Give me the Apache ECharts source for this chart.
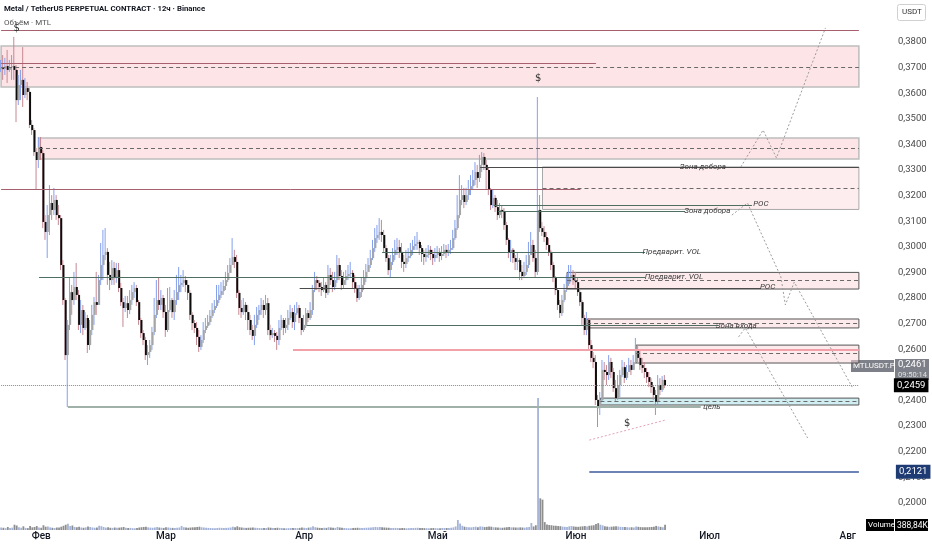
<!DOCTYPE html>
<html><head><meta charset="utf-8">
<script src="https://cdn.jsdelivr.net/npm/echarts@6/dist/echarts.min.js"></script>
<style>html,body{margin:0;padding:0;background:#fff}#c{width:932px;height:550px}</style>
</head><body><div id="c"></div>
<script>
// ---------- DATA ----------
const startDay = [2025, 0, 23];   // first 12h slot
const slotCount = 386;            // slots on the time axis (incl. future space)
const monthNames = ['Янв','Фев','Мар','Апр','Май','Июн','Июл','Авг','Сен','Окт','Ноя','Дек'];
const hiddenTicks = ['0.3900','0.2500','0.1900'];
const firstOpen = 0.3695;

const closes = [
0.3698,0.3695,0.3706,0.3691,0.3702,0.3706,0.3691,0.3573,0.3632,0.3652,
0.3593,0.3620,0.3605,0.3476,0.3456,0.3370,0.3339,0.3390,0.3366,0.3097,
0.3058,0.3124,0.3171,0.3144,0.3183,0.3124,0.3112,0.2929,0.2792,0.2577,
0.2695,0.2823,0.2792,0.2843,0.2812,0.2695,0.2753,0.2683,0.2722,0.2616,
0.2675,0.2734,0.2784,0.2773,0.2870,0.2929,0.2968,0.2980,0.2890,0.2870,
0.2917,0.2878,0.2909,0.2839,0.2784,0.2761,0.2780,0.2753,0.2792,0.2823,
0.2839,0.2784,0.2714,0.2663,0.2636,0.2577,0.2589,0.2616,0.2667,0.2734,
0.2792,0.2773,0.2800,0.2745,0.2675,0.2753,0.2792,0.2745,0.2792,0.2823,
0.2851,0.2859,0.2870,0.2851,0.2820,0.2734,0.2702,0.2683,0.2648,0.2609,
0.2636,0.2675,0.2691,0.2706,0.2730,0.2753,0.2769,0.2792,0.2812,0.2827,
0.2847,0.2870,0.2898,0.2929,0.2960,0.2941,0.2820,0.2761,0.2745,0.2773,
0.2745,0.2714,0.2675,0.2652,0.2695,0.2734,0.2753,0.2773,0.2753,0.2780,
0.2675,0.2655,0.2663,0.2652,0.2636,0.2683,0.2714,0.2683,0.2695,0.2722,
0.2745,0.2706,0.2741,0.2761,0.2722,0.2675,0.2695,0.2741,0.2722,0.2753,
0.2831,0.2870,0.2859,0.2843,0.2831,0.2851,0.2820,0.2890,0.2870,0.2843,
0.2870,0.2929,0.2886,0.2851,0.2870,0.2886,0.2894,0.2898,0.2862,0.2839,
0.2800,0.2823,0.2851,0.2878,0.2902,0.2929,0.2956,0.2995,0.3034,0.3046,
0.3058,0.3046,0.2995,0.2956,0.2909,0.2941,0.2968,0.2988,0.2999,0.2980,
0.2941,0.2933,0.2956,0.2964,0.2988,0.3003,0.3011,0.3019,0.2995,0.2972,
0.2960,0.2968,0.2988,0.2972,0.2956,0.2968,0.2980,0.2964,0.2972,0.2988,
0.2980,0.2988,0.2995,0.3034,0.3073,0.3124,0.3183,0.3202,0.3175,0.3202,
0.3222,0.3237,0.3261,0.3292,0.3269,0.3320,0.3351,0.3320,0.3300,0.3222,
0.3163,0.3191,0.3155,0.3124,0.3144,0.3136,0.3085,0.3027,0.2976,0.2988,
0.2956,0.2941,0.2948,0.2902,0.2886,0.2902,0.2929,0.2968,0.3007,0.2956,
0.2902,0.3144,0.3073,0.3058,0.3038,0.3007,0.2980,0.2929,0.2878,0.2831,
0.2773,0.2741,0.2792,0.2831,0.2855,0.2878,0.2890,0.2870,0.2862,0.2823,
0.2784,0.2722,0.2675,0.2714,0.2616,0.2566,0.2550,0.2402,0.2370,0.2402,
0.2519,0.2511,0.2499,0.2550,0.2511,0.2448,0.2409,0.2460,0.2499,0.2530,
0.2488,0.2511,0.2538,0.2519,0.2550,0.2597,0.2566,0.2538,0.2527,0.2511,
0.2491,0.2472,0.2452,0.2421,0.2394,0.2460,0.2441,0.2480,0.2459];

const highs = [
0.3730,0.3749,0.3738,0.3769,0.3730,0.3749,0.3820,0.3710,0.3671,0.3691,
0.3780,0.3659,0.3644,0.3620,0.3495,0.3464,0.3386,0.3429,0.3429,0.3378,
0.3124,0.3163,0.3241,0.3202,0.3230,0.3202,0.3163,0.3124,0.2948,0.2800,
0.2714,0.2882,0.2851,0.2902,0.2937,0.2831,0.2792,0.2773,0.2745,0.2734,
0.2714,0.2773,0.2804,0.2902,0.2890,0.3015,0.3066,0.3073,0.2995,0.2941,
0.2948,0.2941,0.2937,0.2937,0.2859,0.2800,0.2808,0.2808,0.2831,0.2851,
0.2862,0.2851,0.2792,0.2722,0.2675,0.2648,0.2616,0.2636,0.2687,0.2800,
0.2870,0.2882,0.2831,0.2812,0.2773,0.2839,0.2843,0.2800,0.2831,0.2890,
0.2921,0.2890,0.2909,0.2886,0.2870,0.2831,0.2745,0.2714,0.2706,0.2675,
0.2655,0.2706,0.2722,0.2734,0.2753,0.2780,0.2792,0.2851,0.2851,0.2862,
0.2870,0.2902,0.2929,0.2956,0.3034,0.2988,0.2968,0.2831,0.2792,0.2800,
0.2784,0.2773,0.2734,0.2695,0.2734,0.2765,0.2773,0.2800,0.2792,0.2812,
0.2800,0.2695,0.2683,0.2675,0.2667,0.2714,0.2734,0.2722,0.2722,0.2753,
0.2773,0.2761,0.2773,0.2784,0.2773,0.2722,0.2734,0.2761,0.2753,0.2784,
0.2851,0.2902,0.2886,0.2870,0.2862,0.2878,0.2862,0.2929,0.2917,0.2902,
0.2902,0.2968,0.2956,0.2909,0.2902,0.2909,0.2929,0.2941,0.2909,0.2890,
0.2851,0.2851,0.2878,0.2909,0.2933,0.2956,0.2988,0.3027,0.3073,0.3085,
0.3112,0.3105,0.3066,0.3007,0.2968,0.2968,0.2995,0.3027,0.3034,0.3027,
0.3015,0.2968,0.2988,0.2995,0.3015,0.3027,0.3042,0.3058,0.3027,0.3007,
0.2988,0.2995,0.3007,0.3003,0.2988,0.2995,0.3003,0.2995,0.3003,0.3011,
0.3007,0.3011,0.3027,0.3066,0.3105,0.3202,0.3280,0.3241,0.3230,0.3230,
0.3261,0.3280,0.3300,0.3331,0.3320,0.3359,0.3370,0.3366,0.3339,0.3308,
0.3230,0.3222,0.3202,0.3183,0.3171,0.3163,0.3151,0.3097,0.3034,0.3027,
0.2995,0.2968,0.2980,0.2956,0.2929,0.2941,0.2968,0.3019,0.3058,0.3027,
0.2988,0.3585,0.3202,0.3097,0.3081,0.3058,0.3034,0.2988,0.2941,0.2886,
0.2839,0.2792,0.2812,0.2855,0.2890,0.2929,0.2929,0.2909,0.2902,0.2878,
0.2839,0.2792,0.2734,0.2745,0.2722,0.2636,0.2589,0.2577,0.2421,0.2433,
0.2558,0.2550,0.2538,0.2577,0.2566,0.2527,0.2480,0.2499,0.2519,0.2558,
0.2550,0.2538,0.2566,0.2558,0.2577,0.2644,0.2616,0.2597,0.2566,0.2550,
0.2527,0.2511,0.2487,0.2460,0.2441,0.2499,0.2487,0.2495,0.2499];

const lows = [
0.3683,0.3652,0.3671,0.3640,0.3683,0.3652,0.3652,0.3487,0.3554,0.3573,
0.3546,0.3581,0.3573,0.3464,0.3437,0.3355,0.3222,0.3308,0.3339,0.3073,
0.3027,0.2956,0.3046,0.3105,0.3124,0.3105,0.3085,0.2909,0.2773,0.2558,
0.2374,0.2675,0.2734,0.2773,0.2792,0.2675,0.2663,0.2655,0.2675,0.2585,
0.2597,0.2655,0.2695,0.2734,0.2773,0.2851,0.2870,0.2948,0.2851,0.2831,
0.2851,0.2851,0.2859,0.2823,0.2769,0.2687,0.2745,0.2722,0.2737,0.2773,
0.2800,0.2769,0.2695,0.2644,0.2616,0.2558,0.2538,0.2566,0.2597,0.2655,
0.2722,0.2753,0.2753,0.2722,0.2648,0.2667,0.2745,0.2722,0.2714,0.2773,
0.2792,0.2823,0.2843,0.2823,0.2792,0.2714,0.2675,0.2663,0.2616,0.2589,
0.2597,0.2624,0.2663,0.2683,0.2695,0.2722,0.2741,0.2761,0.2780,0.2800,
0.2812,0.2831,0.2862,0.2902,0.2929,0.2917,0.2800,0.2734,0.2722,0.2734,
0.2714,0.2675,0.2655,0.2636,0.2616,0.2683,0.2714,0.2734,0.2722,0.2734,
0.2655,0.2636,0.2644,0.2628,0.2597,0.2616,0.2675,0.2655,0.2663,0.2675,
0.2714,0.2683,0.2675,0.2734,0.2702,0.2655,0.2667,0.2683,0.2706,0.2714,
0.2734,0.2823,0.2831,0.2823,0.2808,0.2823,0.2800,0.2812,0.2851,0.2823,
0.2831,0.2859,0.2870,0.2831,0.2839,0.2851,0.2870,0.2878,0.2839,0.2820,
0.2784,0.2792,0.2804,0.2831,0.2862,0.2902,0.2917,0.2948,0.2980,0.3015,
0.3027,0.3019,0.2980,0.2941,0.2890,0.2878,0.2929,0.2948,0.2968,0.2956,
0.2917,0.2902,0.2917,0.2941,0.2956,0.2968,0.2988,0.2988,0.2968,0.2941,
0.2929,0.2941,0.2956,0.2948,0.2929,0.2941,0.2956,0.2941,0.2948,0.2964,
0.2956,0.2964,0.2972,0.2988,0.3027,0.3066,0.3112,0.3163,0.3151,0.3163,
0.3183,0.3202,0.3222,0.3241,0.3230,0.3253,0.3292,0.3300,0.3222,0.3202,
0.3144,0.3151,0.3136,0.3105,0.3112,0.3112,0.3066,0.3007,0.2956,0.2941,
0.2937,0.2909,0.2909,0.2870,0.2870,0.2878,0.2890,0.2917,0.2968,0.2941,
0.2878,0.2890,0.3058,0.3042,0.3019,0.2988,0.2964,0.2909,0.2862,0.2812,
0.2753,0.2722,0.2730,0.2784,0.2823,0.2847,0.2862,0.2851,0.2839,0.2808,
0.2769,0.2695,0.2655,0.2655,0.2597,0.2550,0.2526,0.2382,0.2296,0.2343,
0.2394,0.2480,0.2460,0.2480,0.2487,0.2433,0.2394,0.2402,0.2413,0.2491,
0.2468,0.2480,0.2519,0.2499,0.2519,0.2542,0.2550,0.2519,0.2507,0.2487,
0.2468,0.2452,0.2429,0.2402,0.2343,0.2382,0.2421,0.2433,0.2448];

// volume, thousands of MTL
const volumes = [
190,170,140,230,160,180,400,340,210,170,
280,160,140,310,200,230,300,180,170,360,
250,270,200,170,150,190,180,250,320,400,
470,300,340,230,210,250,190,170,200,270,
230,190,170,180,320,290,230,180,210,170,
160,190,170,180,200,230,170,150,160,140,
130,150,190,210,230,250,200,180,170,190,
220,190,170,160,200,190,170,160,150,170,
190,310,210,180,170,190,200,210,230,250,
210,190,170,160,150,140,130,150,170,160,
150,160,170,190,250,200,280,210,190,170,
160,170,180,190,170,160,150,140,160,150,
190,170,160,150,170,160,150,140,130,140,
150,160,150,140,160,190,170,150,180,200,
280,210,180,160,150,170,160,210,190,170,
160,230,190,170,150,140,130,140,150,160,
170,160,150,160,170,180,190,210,230,210,
230,200,190,180,170,160,150,160,150,140,
150,140,130,140,150,150,160,170,160,150,
140,140,130,140,150,140,130,140,150,150,
150,160,170,200,270,760,500,320,250,220,
210,200,230,250,210,270,260,220,240,270,
250,210,200,190,180,170,190,210,230,200,
200,190,180,200,190,180,200,230,530,270,
360,10000,2400,2300,600,420,380,360,330,320,
300,290,260,240,220,280,300,270,250,240,
260,280,300,260,320,340,360,450,520,400,
350,280,260,240,250,270,290,260,240,230,
220,210,200,210,190,260,240,220,210,200,
210,220,230,250,310,270,240,210,388.84];
const volumeMax = 10000;

// zones: [from, to, top, bottom, middle(dashed), kind]
const zones = [
['start','end',0.3784,0.3624,0.3702,'soft'],
['2025-01-31 12','end',0.3425,0.3343,0.3386,'soft'],
['2025-05-24 12','end',0.3312,0.3146,0.3230,'light'],
['2025-05-30 00','end',0.2900,0.2835,0.2870,'dark'],
['2025-06-03 12','end',0.2718,0.2683,0.2702,'dark'],
['2025-06-14 12','end',0.2616,0.2546,0.2585,'dark'],
['2025-06-06 12','end',0.2409,0.2382,0.2396,'cyan']
];
// horizontal levels: [from, to, price, kind]
const levels = [
['start','end',0.3847,'rose'],
['start','2025-06-05 12',0.3718,'rose'],
['start','2025-06-02 00',0.3226,'rose'],
['2025-05-10 12','end',0.3312,'dark'],
['2025-05-13 12','2025-07-10 12',0.3164,'green'],
['2025-05-14 12','2025-06-25 12',0.3140,'green'],
['2025-04-18 12','2025-06-16 12',0.2980,'green'],
['2025-01-31 12','2025-06-16 12',0.2882,'green'],
['2025-03-31 00','2025-07-12 12',0.2839,'dark'],
['2025-04-01 12','2025-07-03 00',0.2695,'green'],
['2025-03-29 12','end',0.2597,'red'],
['2025-02-07 00','2025-06-29 00',0.2374,'target'],
['2025-06-04 00','end',0.2121,'blue'],
['start','end',0.2459,'price']
];
const priceTags = {0.2121:'0,2121', 0.2459:'0,2459'};
// annotation texts: [text, at, price]
const notes = [
['Зона добора','2025-06-29 12',0.3312],
['Зона добора','2025-06-30 12',0.3140],
['POC','2025-07-12 12',0.3167],
['Предварит. VOL','2025-06-22 12',0.2980],
['Предварит. VOL','2025-06-23 00',0.2882],
['POC','2025-07-14 00',0.2843],
['Зона входа','2025-07-07 00',0.2691],
['цель','2025-07-01 12',0.2374],
['$','2025-01-26 12',0.3855],
['$','2025-05-23 12',0.3659],
['$','2025-06-12 12',0.2312]
];
// projected paths
const projUp = [['2025-07-08 00',0.3312],['2025-07-13 00',0.3456],['2025-07-16 00',0.3347],['2025-07-27 00',0.3855]];
const projMid = [['2025-07-06 00',0.3124],['2025-07-09 12',0.3171],['2025-07-17 00',0.2882],['2025-07-18 00',0.2773],['2025-07-20 00',0.2862],['2025-08-02 00',0.2452]];
const projLow = [['2025-07-07 12',0.2648],['2025-07-09 00',0.2683],['2025-07-23 00',0.2253]];
const projPink = [['2025-06-04 00',0.2245],['2025-06-21 00',0.2323]];

// ---------- BUILD ----------
const pad = n => String(n).padStart(2,'0');
const cats = [];
for (let k = 0; k < slotCount; k++) {
  const d = new Date(Date.UTC(startDay[0], startDay[1], startDay[2]) + k * 12 * 3600 * 1000);
  cats.push(d.getUTCFullYear() + '-' + pad(d.getUTCMonth()+1) + '-' + pad(d.getUTCDate()) + ' ' + pad(d.getUTCHours()));
}
const X = s => s === 'start' ? cats[0] : (s === 'end' ? cats[cats.length-1] : s);

const candles = closes.map((c, i) => {
  const o = i === 0 ? firstOpen : closes[i-1];
  return [i, o, c, Math.min(lows[i], o, c), Math.max(highs[i], o, c)];
});
const volData = volumes.map((v, i) => ({
  value: v,
  itemStyle: { color: candles[i][2] >= candles[i][1] ? '#a4b3d8' : '#8e8e8e' }
}));

const lineKinds = {
  rose:   {color:'#a7606e', width:1, type:'solid'},
  dark:   {color:'#4a4a4a', width:1, type:'solid'},
  green:  {color:'#4f6f63', width:1, type:'solid'},
  red:    {color:'#f2a0aa', width:2, type:'solid'},
  target: {color:'#9fb1a8', width:2, type:'solid'},
  blue:   {color:'#3a5a9c', width:1.5, type:'solid'},
  price:  {color:'#8a8a8a', width:1, type:'dotted'}
};
const boxKinds = {
  soft:  {color:'rgba(251,205,211,0.55)', borderColor:'#bdbdbd', borderWidth:1.5},
  light: {color:'rgba(253,222,226,0.55)', borderColor:'#a8a8a8', borderWidth:1},
  dark:  {color:'rgba(252,214,219,0.5)',  borderColor:'#555555', borderWidth:1},
  cyan:  {color:'rgba(196,232,238,0.8)',  borderColor:'#555555', borderWidth:1}
};

const areaData = zones.map(z => [
  {coord:[X(z[0]), z[2]], itemStyle: boxKinds[z[5]]},
  {coord:[X(z[1]), z[3]]}
]);
const lineData = [];
zones.forEach(z => {
  lineData.push([
    {coord:[X(z[0]), z[4]], lineStyle:{color:'#6a6a6a', width:1, type:[4,3]}, label:{show:false}},
    {coord:[X(z[1]), z[4]]}
  ]);
});
levels.forEach(l => {
  const k = lineKinds[l[3]];
  const tag = priceTags[l[2]];
  const bg = l[3] === 'blue' ? '#1f3b73' : '#000';
  lineData.push([
    {coord:[X(l[0]), l[2]], lineStyle:{color:k.color, width:k.width, type:k.type},
     label: tag ? {show:true, position:'end', distance: l[3]==='blue'?37:35, formatter: tag,
       backgroundColor:bg, color:'#fff', padding:[2,3,2,3], fontSize:9.5, fontFamily:'Roboto'} : {show:false}},
    {coord:[X(l[1]), l[2]]}
  ]);
});
const pointData = notes.map(n => ({
  coord:[n[1], n[2]], value: n[0],
  label: n[0] === '$'
    ? {show:true, formatter:n[0], color:'#333', fontSize:10, fontFamily:'DejaVu Sans'}
    : {show:true, formatter:n[0], color:'#3a3a3a', fontSize:8, fontStyle:'italic', fontFamily:'Roboto'}
}));

function renderCandle(params, api) {
  const i = api.value(0), o = api.value(1), c = api.value(2), l = api.value(3), h = api.value(4);
  const pO = api.coord([i, o]), pC = api.coord([i, c]), pL = api.coord([i, l]), pH = api.coord([i, h]);
  const w = api.size([1, 0])[0] * 0.88;
  const up = c >= o;
  const xw = pO[0] - 0.7;
  return {type:'group', children:[
    {type:'line', shape:{x1:xw, y1:pH[1], x2:xw, y2:pL[1]},
     style:{stroke: up ? '#84a0ee' : '#c58892', lineWidth:1}},
    {type:'rect', shape:{x:pO[0]-w/2, y:Math.min(pO[1], pC[1]), width:w, height:Math.max(1, Math.abs(pO[1]-pC[1]))},
     style:{fill: up ? '#a6a6a6' : '#0d0d0d'}}
  ]};
}

const projStyle = (color) => ({type:'line', xAxisIndex:0, yAxisIndex:0, symbol:'none', silent:true, z:4,
  lineStyle:{color:color, width:1, type:[2,2]}});

const option = {
  animation:false,
  backgroundColor:'#ffffff',
  grid:[
    {left:0, right:72, top:16.4, bottom:21.6},
    {left:0, right:72, top:398, bottom:20}
  ],
  xAxis:[
    {type:'category', gridIndex:0, data:cats, boundaryGap:true,
     axisLine:{show:false}, axisTick:{show:false}, splitLine:{show:false},
     axisLabel:{interval:(idx, v) => v.slice(8) === '01 00',
       formatter: v => monthNames[parseInt(v.slice(5,7),10)-1],
       color:'#131722', fontSize:10, fontWeight:500, margin:3, fontFamily:'Roboto'}},
    {type:'category', gridIndex:1, data:cats, boundaryGap:true, show:false}
  ],
  yAxis:[
    {type:'value', gridIndex:0, position:'right', min:0.19, max:0.39, interval:0.01,
     axisLine:{show:false}, axisTick:{show:false}, splitLine:{show:false},
     axisLabel:{margin:38, color:'#4a4a4a', fontSize:9.5, fontFamily:'Roboto',
       formatter: v => { const s = v.toFixed(4); return hiddenTicks.includes(s) ? '' : s.replace('.', ','); }}},
    {type:'value', gridIndex:1, min:0, max:volumeMax, show:false}
  ],
  series:[
    {type:'bar', xAxisIndex:1, yAxisIndex:1, data:volData, barWidth:1.8, silent:true, z:1},
    {type:'line', name:'levels', xAxisIndex:0, yAxisIndex:0, data:closes, symbol:'none', silent:true, z:1,
     lineStyle:{opacity:0},
     markArea:{silent:true, data:areaData},
     markLine:{silent:true, symbol:['none','none'], data:lineData},
     markPoint:{silent:true, symbol:'rect', symbolSize:1, itemStyle:{color:'rgba(0,0,0,0)'}, data:pointData}},
    {type:'custom', xAxisIndex:0, yAxisIndex:0, data:candles, renderItem:renderCandle, z:3, silent:true,
     encode:{x:0, y:[1,2,3,4]}},
    Object.assign(projStyle('#9d9d9d'), {data:projUp}),
    Object.assign(projStyle('#9d9d9d'), {data:projMid}),
    Object.assign(projStyle('#9d9d9d'), {data:projLow}),
    Object.assign(projStyle('#e3a4b4'), {data:projPink})
  ],
  graphic:[
    {type:'text', left:4, top:5, style:{text:'Metal / TetherUS PERPETUAL CONTRACT · 12ч · Binance', font:'bold 7.8px Roboto', fill:'#131722'}},
    {type:'text', left:4, top:19, style:{text:'Объём · MTL', font:'8px Roboto', fill:'#555'}},
    {type:'rect', left:897, top:4, shape:{width:28, height:16, r:2}, style:{fill:'#fff', stroke:'#d0d0d0', lineWidth:1}},
    {type:'text', left:902, top:8, style:{text:'USDT', font:'8px Roboto', fill:'#333'}},
    {type:'rect', left:851, top:360, shape:{width:43, height:12}, style:{fill:'#7d8088'}},
    {type:'text', left:853, top:362, style:{text:'MTLUSDT.P', font:'8px Roboto', fill:'#fff'}},
    {type:'rect', left:895, top:359, shape:{width:34, height:21}, style:{fill:'#7d8088'}},
    {type:'text', left:898, top:360, style:{text:'0,2461', font:'9.5px Roboto', fill:'#fff'}},
    {type:'text', left:898, top:371, style:{text:'09:50:14', font:'7.5px Roboto', fill:'#e0e0e0'}},
    {type:'rect', left:866, top:519, shape:{width:28, height:12}, style:{fill:'#000'}},
    {type:'text', left:868, top:521, style:{text:'Volume', font:'8px Roboto', fill:'#fff'}},
    {type:'rect', left:895, top:519, shape:{width:33, height:12}, style:{fill:'#000'}},
    {type:'text', left:897, top:521, style:{text:'388,84K', font:'8.5px Roboto', fill:'#fff'}}
  ]
};
const chart = echarts.init(document.getElementById('c'), null, {renderer:'canvas'});
chart.setOption(option);
</script></body></html>
